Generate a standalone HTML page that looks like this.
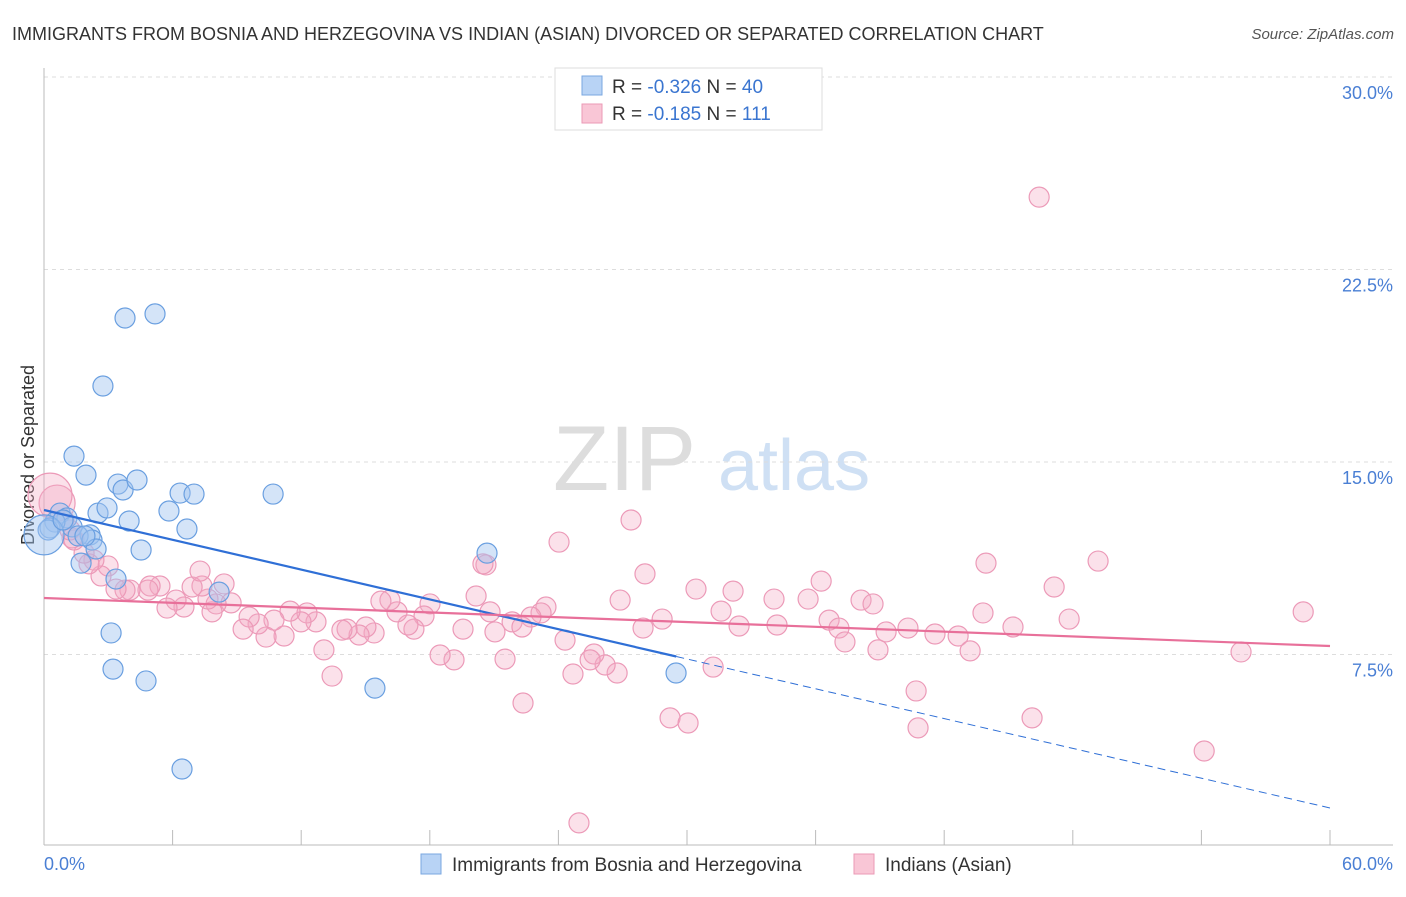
<!DOCTYPE html>
<html><head><meta charset="utf-8"><style>
body{margin:0;background:#fff;font-family:"Liberation Sans",sans-serif}
svg text{font-family:"Liberation Sans",sans-serif}
</style></head><body>
<svg id="c" width="1406" height="892" xmlns="http://www.w3.org/2000/svg">
<text x="12" y="40" font-size="18" fill="#333">IMMIGRANTS FROM BOSNIA AND HERZEGOVINA VS INDIAN (ASIAN) DIVORCED OR SEPARATED CORRELATION CHART</text>
<text x="1394" y="39" font-size="15" fill="#555" font-style="italic" text-anchor="end">Source: ZipAtlas.com</text>
<g><text x="553" y="490" font-size="92" fill="#ddd" font-family="Liberation Serif,serif">ZIP</text><text x="718" y="490" font-size="72" fill="#cfe0f4">atlas</text></g>
<text transform="translate(34,455) rotate(-90)" font-size="18" fill="#333" text-anchor="middle">Divorced or Separated</text>
<g id="grid"></g><g id="pts"></g><g id="lines"></g>
<g>
<rect x="555" y="68" width="267" height="62" fill="#fff" stroke="#ddd"/>
<rect x="582" y="76" width="20" height="19" fill="#b8d3f5" stroke="#7aa7e0"/>
<rect x="582" y="104" width="20" height="19" fill="#f9c6d6" stroke="#eb9ab6"/>
<text x="612" y="93" font-size="19" fill="#333">R = <tspan fill="#3a75d0">-0.326</tspan>   N = <tspan fill="#3a75d0">40</tspan></text>
<text x="612" y="120" font-size="19" fill="#333">R =  <tspan fill="#3a75d0">-0.185</tspan>   N = <tspan fill="#3a75d0">111</tspan></text>
</g>
<g>
<rect x="421" y="854" width="20" height="20" fill="#b8d3f5" stroke="#7aa7e0"/>
<text x="452" y="871" font-size="19" fill="#333">Immigrants from Bosnia and Herzegovina</text>
<rect x="854" y="854" width="20" height="20" fill="#f9c6d6" stroke="#eb9ab6"/>
<text x="885" y="871" font-size="19" fill="#333">Indians (Asian)</text>
</g>
</svg>
<script>
const xTicks=[0,60];
const yTicks=[7.5,15,22.5,30];
const yTickLabels=["7.5%","15.0%","22.5%","30.0%"];
const bosX=[3.78,5.18,2.75,1.40,1.96,3.45,3.69,4.34,6.35,7.00,10.69,5.83,2.52,2.94,3.97,6.67,0.75,1.07,1.31,0.51,0.28,0.19,2.15,1.59,2.24,2.43,4.53,1.73,3.36,20.67,8.17,3.13,3.22,4.76,15.44,29.49,6.44,0,0.89,1.91];
const bosY=[20.61,20.77,17.96,15.23,14.49,14.14,13.91,14.30,13.79,13.75,13.75,13.09,13.01,13.21,12.70,12.39,13.01,12.82,12.47,12.66,12.43,12.35,12.16,12.12,11.96,11.61,11.57,11.06,10.44,11.45,9.93,8.34,6.93,6.47,6.19,6.78,3.04,12.16,12.74,12.12];
const bosSize=[1,1,1,1,1,1,1,1,1,1,1,1,1,1,1,1,1,1,1,1,1,1,1,1,1,1,1,1,1,1,1,1,1,1,1,1,1,2,1,1];
const indX=[46.43,27.39,24.03,43.95,49.18,28.04,36.26,47.13,30.42,32.15,58.75,34.06,35.65,38.12,38.68,31.59,43.81,47.83,36.63,32.43,34.20,37.09,39.29,40.31,41.57,42.65,45.21,37.37,38.91,43.21,55.85,27.95,28.84,26.88,31.22,40.69,46.10,40.78,54.13,29.21,30.05,24.96,22.35,26.74,26.18,25.66,25.48,24.68,24.31,23.42,23.19,22.72,21.84,20.81,20.62,20.48,20.16,19.55,19.13,18.48,18.01,17.73,17.26,16.98,16.47,16.14,15.72,15.40,15.02,14.70,14.14,13.90,13.44,13.06,12.69,12.27,11.99,11.48,11.20,10.73,10.36,9.99,9.57,9.29,8.73,8.03,7.84,7.65,7.37,6.91,6.53,6.16,5.74,5.41,4.95,4.85,4.01,3.78,3.36,2.99,2.66,2.33,2.10,1.87,1.40,1.31,1.21,0.93,0.61,0.28,7.28,8.40,21.04,21.51,22.30];
const indY=[25.32,12.74,11.88,11.06,11.14,10.64,10.36,10.13,10.05,9.97,9.16,9.66,9.66,9.62,9.47,9.19,9.12,8.88,8.84,8.61,8.65,8.53,8.38,8.53,8.30,8.22,8.57,7.99,7.68,7.64,7.60,8.53,8.88,9.62,7.01,6.08,5.03,4.64,3.74,5.03,4.83,0.94,5.61,6.78,7.09,7.52,7.29,6.74,8.06,9.35,9.12,8.96,8.77,9.16,10.99,11.03,9.78,8.49,7.29,7.48,9.47,9.00,8.49,8.65,9.16,9.62,9.58,8.34,8.57,8.26,8.49,8.45,6.66,7.68,8.77,9.12,8.77,9.19,8.22,8.84,8.18,8.69,8.96,8.49,9.51,9.47,9.16,9.66,10.17,10.13,9.35,9.62,9.31,10.17,10.17,10.01,10.01,10.01,10.05,10.95,10.56,11.18,11.03,11.45,11.96,12.04,12.35,12.74,13.40,13.71,10.75,10.25,8.38,7.32,8.57];
const bosTrend=[13.13,1.52];
const bosSolidEnd=29.5;
const indTrend=[9.70,7.83];
const NS='http://www.w3.org/2000/svg';
const X=v=>44+v/60*1286;
const Y=v=>847-v/7.5*192.5;
function mk(t,a,p){const e=document.createElementNS(NS,t);for(const k in a)e.setAttribute(k,a[k]);p.appendChild(e);return e;}
const grid=document.getElementById('grid');
yTicks.forEach((t,i)=>{
 const l=mk('line',{x1:44,x2:1393,y1:Y(t),y2:Y(t),stroke:'#ddd','stroke-dasharray':'4,4'},grid);
 
 
 const tx=mk('text',{x:1393,y:Y(t)+22,'font-size':18,fill:'#4a7fd4','text-anchor':'end'},grid);
 tx.textContent=yTickLabels[i];
 
 
});
const ax=mk('line',{x1:44,x2:44,y1:68,y2:845,stroke:'#bbb'},grid);


const bx=mk('line',{x1:44,x2:1393,y1:845,y2:845,stroke:'#bbb'},grid);


for(let i=0;i<=10;i++){const tk=mk('line',{x1:X(i*6),x2:X(i*6),y1:830,y2:845,stroke:'#bbb'},grid);
 
 }
xTicks.forEach((t,i)=>{const tx=mk('text',{x:i?1393:44,y:870,'font-size':18,fill:'#4a7fd4','text-anchor':i?'end':'start'},grid);
 tx.textContent=t.toFixed(1)+'%';
 
 });
const pts=document.getElementById('pts');
indX.forEach((v,i)=>{let r=10;if(indY[i]>13.3&&v<1)r=v<0.4?22:18;
 const c=mk('circle',{cx:X(v),cy:Y(indY[i]),r:r,fill:'rgba(244,170,195,0.35)',stroke:'#ec9ab8','stroke-width':1.2},pts);
 
 });
bosX.forEach((v,i)=>{
 const c=mk('circle',{cx:X(v),cy:Y(bosY[i]),r:10*bosSize[i],fill:'rgba(160,196,240,0.45)',stroke:'#6a9fe0','stroke-width':1.2},pts);
 
 });
const lines=document.getElementById('lines');
const by=x=>bosTrend[0]+(bosTrend[1]-bosTrend[0])*x/60;
let l1=mk('line',{x1:X(0),y1:Y(by(0)),x2:X(bosSolidEnd),y2:Y(by(bosSolidEnd)),stroke:'#2f6fd6','stroke-width':2.2},lines);


let l2=mk('line',{x1:X(bosSolidEnd),y1:Y(by(bosSolidEnd)),x2:X(60),y2:Y(by(60)),stroke:'#2f6fd6','stroke-width':1,'stroke-dasharray':'8,5'},lines);


let l3=mk('line',{x1:X(0),y1:Y(indTrend[0]),x2:X(60),y2:Y(indTrend[1]),stroke:'#e8709a','stroke-width':2.2},lines);


</script>
</body></html>
